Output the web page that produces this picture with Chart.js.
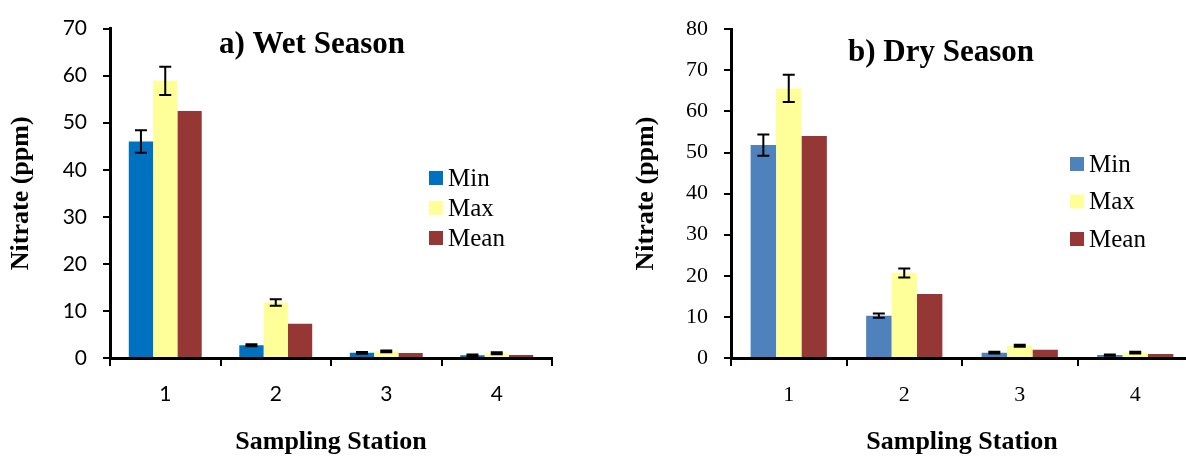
<!DOCTYPE html>
<html>
<head>
<meta charset="utf-8">
<script src="https://cdn.jsdelivr.net/npm/chart.js@4.4.0/dist/chart.umd.min.js"></script>
<style>
  html, body { margin: 0; padding: 0; background: #fff; overflow: hidden; }
  .panel { position: absolute; top: 0; }
</style>
</head>
<body>
<div class="panel" style="left:0"><canvas id="wetChart" width="600" height="458"></canvas></div>
<div class="panel" style="left:600px"><canvas id="dryChart" width="600" height="458"></canvas></div>
<script>
// stations on the x axis
const stations = ["1", "2", "3", "4"];

// wet season nitrate (ppm)
const wetMin = [46.0, 2.7, 1.1, 0.6];
const wetMax = [58.9, 11.8, 1.4, 1.0];
const wetMean = [52.5, 7.3, 1.05, 0.65];
const wetMinErr = [2.4, 0.2, 0.2, 0.15];
const wetMaxErr = [3.0, 0.7, 0.2, 0.2];

// dry season nitrate (ppm)
const dryMin = [51.8, 10.3, 1.3, 0.7];
const dryMax = [65.6, 20.7, 3.0, 1.3];
const dryMean = [54.0, 15.6, 2.0, 1.0];
const dryMinErr = [2.6, 0.5, 0.2, 0.15];
const dryMaxErr = [3.3, 1.1, 0.25, 0.2];

const wetTicks = [0, 10, 20, 30, 40, 50, 60, 70];
const dryTicks = [0, 10, 20, 30, 40, 50, 60, 70, 80];

// draws the little I-shaped error bars on top of bars
const errorBars = {
  id: "errorBars",
  afterDatasetsDraw(chart) {
    const ctx = chart.ctx;
    const y = chart.scales.y;
    chart.data.datasets.forEach((ds, i) => {
      if (!ds.errors) return;
      const meta = chart.getDatasetMeta(i);
      meta.data.forEach((bar, j) => {
        const e = ds.errors[j];
        if (!e) return;
        const v = ds.data[j];
        const top = y.getPixelForValue(v + e);
        const bot = y.getPixelForValue(Math.max(v - e, 0));
        ctx.save();
        ctx.strokeStyle = "#000";
        ctx.lineWidth = 2;
        ctx.beginPath();
        ctx.moveTo(bar.x, top);
        ctx.lineTo(bar.x, bot);
        ctx.moveTo(bar.x - 6, top);
        ctx.lineTo(bar.x + 6, top);
        ctx.moveTo(bar.x - 6, bot);
        ctx.lineTo(bar.x + 6, bot);
        ctx.stroke();
        ctx.restore();
      });
    });
  },
};

// chart title written inside the plot area
const insideTitle = {
  id: "insideTitle",
  afterDraw(chart, args, opts) {
    const ctx = chart.ctx;
    ctx.save();
    ctx.font = "bold 31px 'Liberation Serif'";
    ctx.fillStyle = "#000";
    ctx.textAlign = "center";
    ctx.textBaseline = "middle";
    ctx.fillText(opts.text, opts.x, opts.y);
    ctx.restore();
  },
};

// vertical legend placed inside the plot area
const boxLegend = {
  id: "boxLegend",
  afterDraw(chart, args, opts) {
    const ctx = chart.ctx;
    ctx.save();
    ctx.font = "25px 'Liberation Serif'";
    ctx.textBaseline = "middle";
    chart.data.datasets.forEach((ds, i) => {
      const cy = opts.y + i * opts.gap;
      ctx.fillStyle = ds.backgroundColor;
      ctx.fillRect(opts.x, cy - 7, 14, 14);
      ctx.fillStyle = "#000";
      ctx.fillText(ds.label, opts.x + 19, cy + 1);
    });
    ctx.restore();
  },
};

function makeChart(id, cfg) {
  return new Chart(document.getElementById(id), {
    type: "bar",
    data: {
      labels: stations,
      datasets: [
        { label: "Min", data: cfg.min, errors: cfg.minErr, backgroundColor: cfg.minColor },
        { label: "Max", data: cfg.max, errors: cfg.maxErr, backgroundColor: "#FFFF99" },
        { label: "Mean", data: cfg.mean, backgroundColor: "#953735" },
      ],
    },
    options: {
      responsive: false,
      devicePixelRatio: 1,
      animation: false,
      layout: { padding: { top: 25, left: 0, right: cfg.padRight, bottom: 0 } },
      datasets: { bar: { categoryPercentage: 0.66, barPercentage: 1.0 } },
      plugins: {
        legend: { display: false },
        tooltip: { enabled: false },
        insideTitle: cfg.title,
        boxLegend: cfg.legend,
      },
      scales: {
        x: {
          afterFit: (s) => { s.height = 100; },
          grid: { offset: true, drawOnChartArea: false, tickLength: 8, color: "#000", lineWidth: 2 },
          border: { display: true, color: "#000", width: 3 },
          ticks: { color: "#000", padding: 16, font: { family: cfg.tickFont, size: cfg.tickSize } },
          title: {
            display: true,
            text: "Sampling Station",
            color: "#000",
            padding: { top: 0, bottom: 0 },
            font: { family: "'Liberation Serif'", size: 26, weight: "bold" },
          },
        },
        y: {
          min: 0,
          max: cfg.ticks[cfg.ticks.length - 1],
          afterFit: (s) => { s.width = cfg.yWidth; },
          afterBuildTicks: (s) => { s.ticks = cfg.ticks.map((v) => ({ value: v })); },
          grid: { drawOnChartArea: false, tickLength: 7, color: "#000", lineWidth: 2 },
          border: { display: true, color: "#000", width: 3 },
          ticks: { color: "#000", padding: 16, font: { family: cfg.tickFont, size: cfg.tickSize } },
          title: {
            display: true,
            text: "Nitrate (ppm)",
            color: "#000",
            padding: { top: cfg.yTitlePad, bottom: 0 },
            font: { family: "'Liberation Serif'", size: 26, weight: "bold" },
          },
        },
      },
    },
    plugins: [errorBars, insideTitle, boxLegend],
  });
}

makeChart("wetChart", {
  min: wetMin, max: wetMax, mean: wetMean,
  minErr: wetMinErr, maxErr: wetMaxErr,
  minColor: "#0070C0",
  ticks: wetTicks,
  padRight: 48,
  yWidth: 110,
  yTitlePad: 6,
  tickFont: "Lato",
  tickSize: 21,
  title: { text: "a) Wet Season", x: 312, y: 45 },
  legend: { x: 429, y: 178, gap: 30 },
});

makeChart("dryChart", {
  min: dryMin, max: dryMax, mean: dryMean,
  minErr: dryMinErr, maxErr: dryMaxErr,
  minColor: "#4F81BD",
  ticks: dryTicks,
  padRight: 7,
  yWidth: 131,
  yTitlePad: 31,
  tickFont: "'Liberation Serif'",
  tickSize: 22,
  title: { text: "b) Dry Season", x: 341, y: 53 },
  legend: { x: 470, y: 164, gap: 37.5 },
});
</script>
</body>
</html>
